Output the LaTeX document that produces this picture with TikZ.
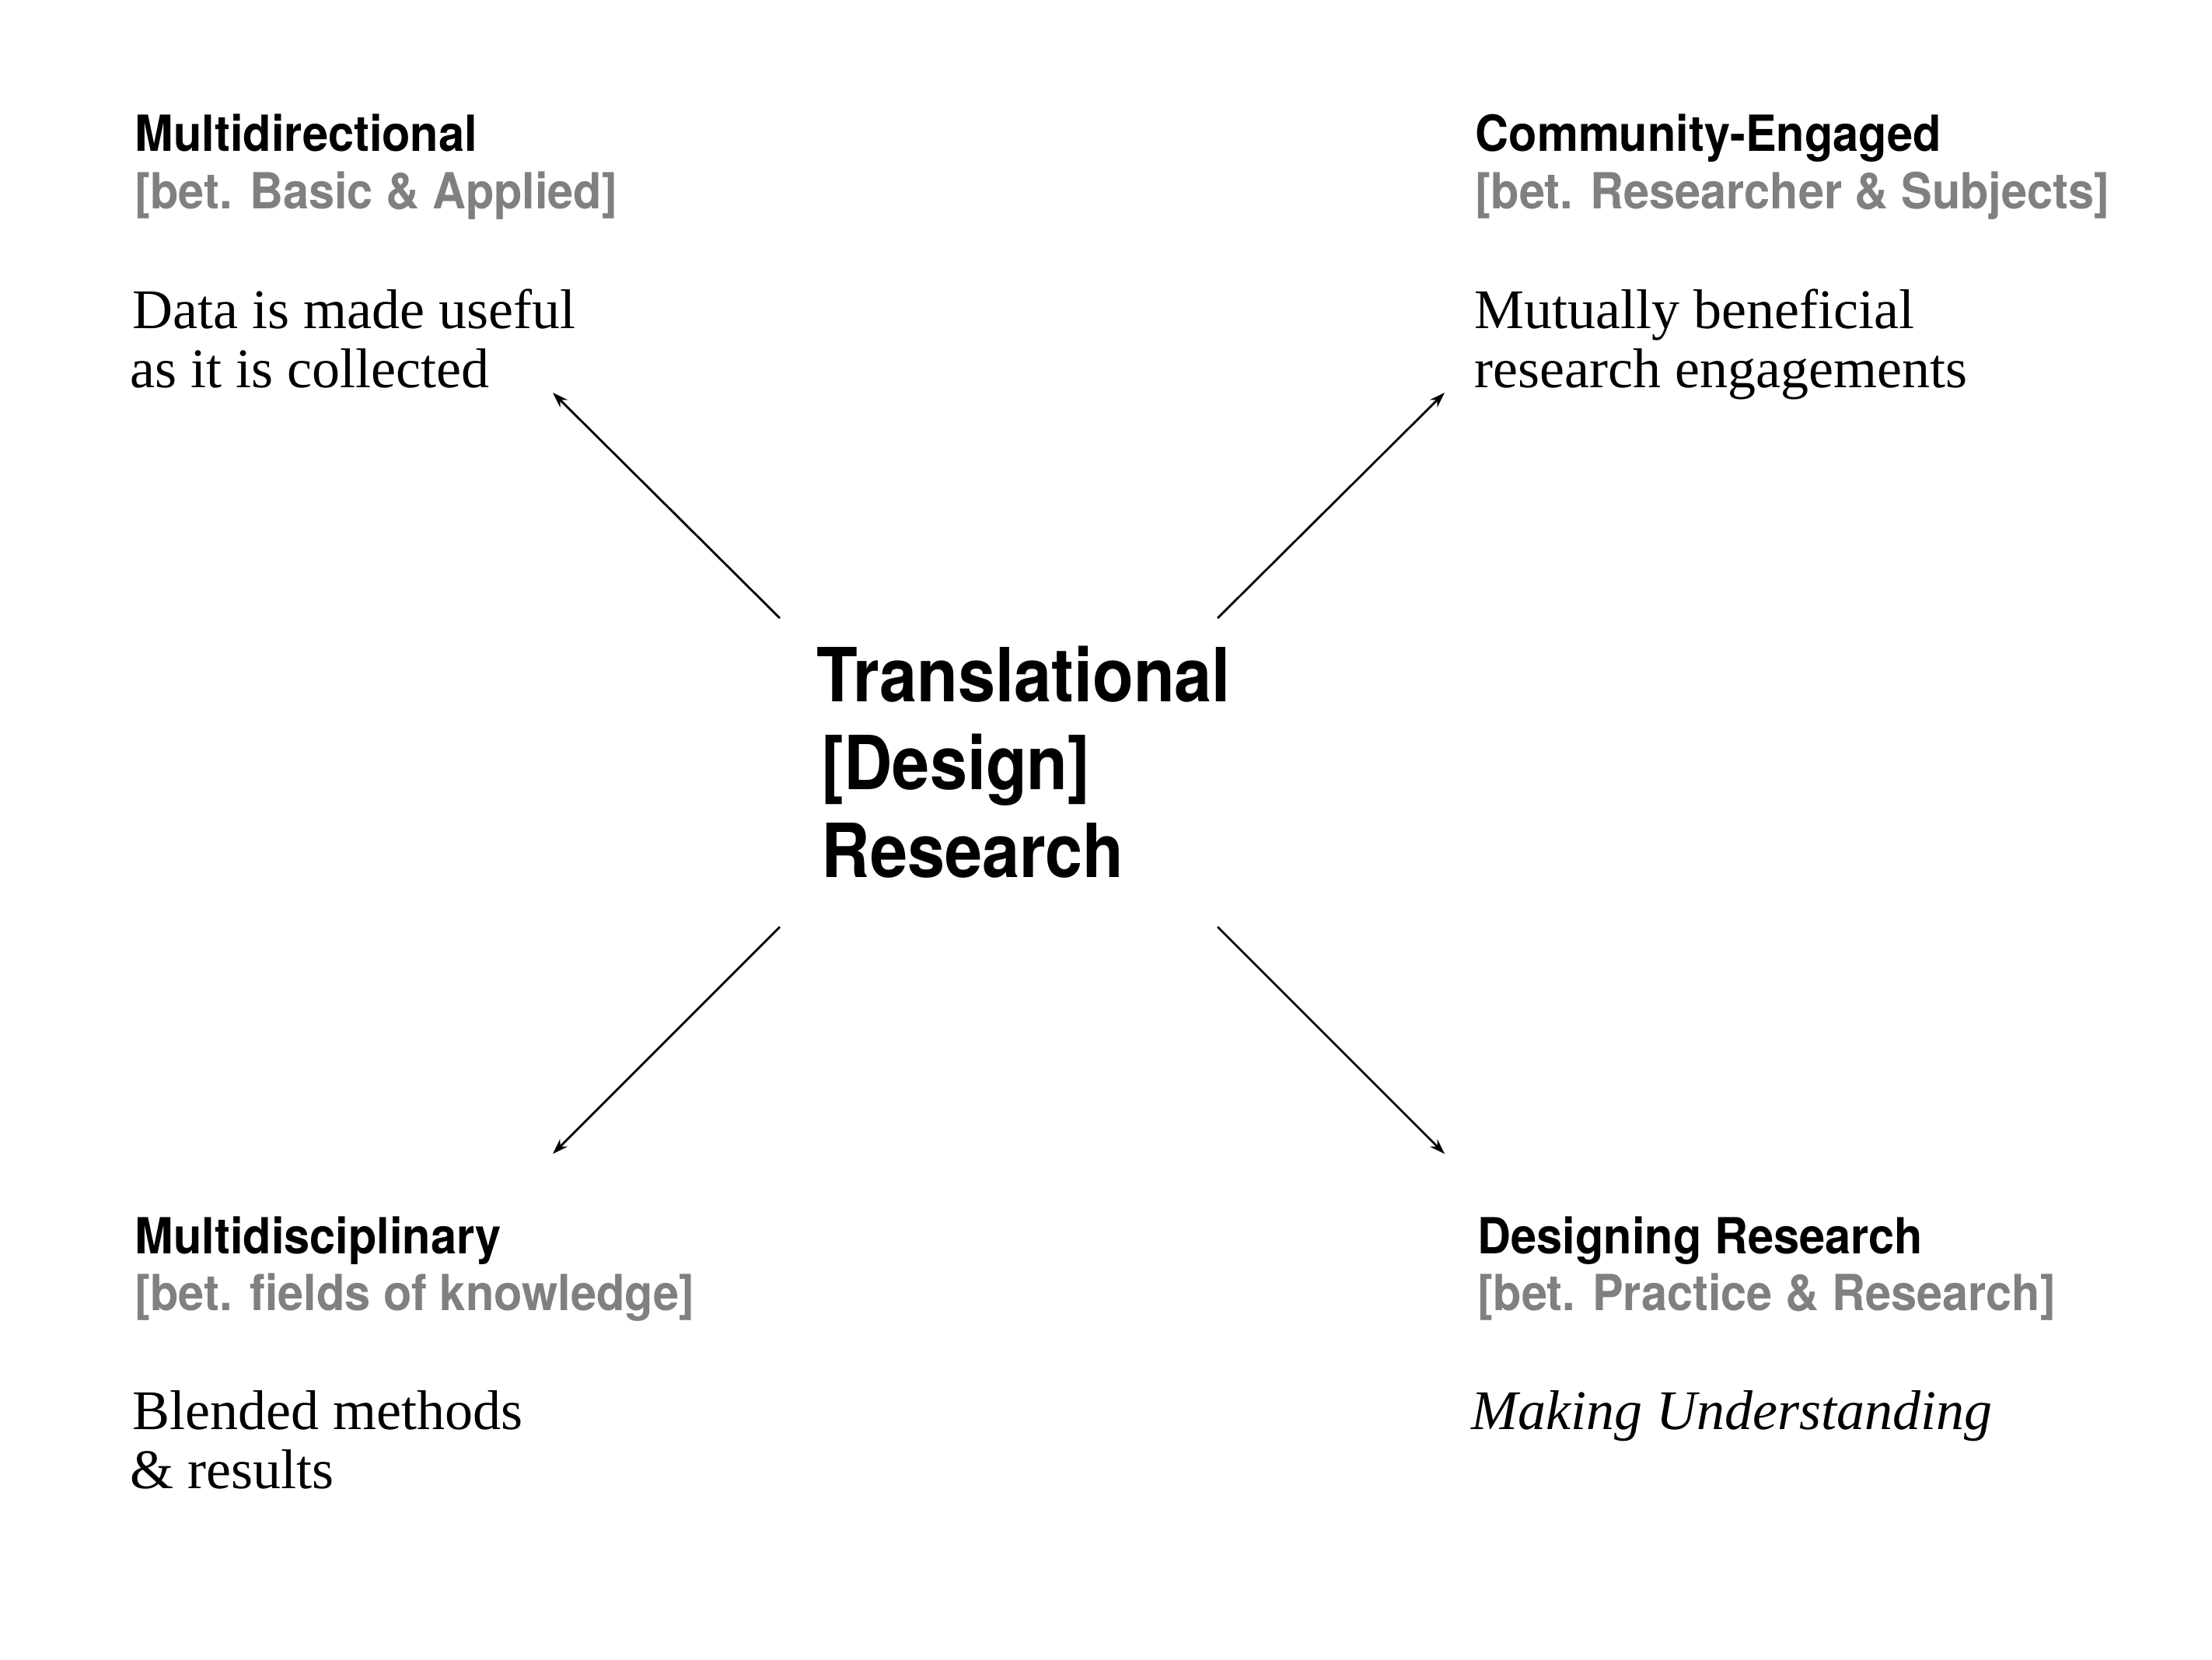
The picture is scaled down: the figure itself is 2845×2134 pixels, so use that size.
\documentclass[tikz,border=0pt]{standalone}
\usepackage{fontspec}
\setmainfont{Liberation Serif}
\newfontfamily\headfont[FakeStretch=0.93]{TeX Gyre Heros}
\newfontfamily\titlefont[FakeStretch=0.9]{TeX Gyre Heros}
\usetikzlibrary{arrows.meta}
\definecolor{subgray}{RGB}{128,128,128}
\tikzset{
  txt/.style={inner sep=0pt, anchor=base west},
  head/.style={txt, font=\headfont\bfseries\fontsize{16}{18}\selectfont, text=black},
  sub/.style={txt, font=\headfont\bfseries\fontsize{16}{18}\selectfont, text=subgray},
  body/.style={txt, font=\fontsize{18}{19}\selectfont, text=black},
  bodyit/.style={txt, font=\itshape\fontsize{18}{19}\selectfont, text=black},
  title/.style={txt, font=\titlefont\bfseries\fontsize{24}{28}\selectfont, text=black},
  conn/.style={line width=0.7pt, -{Stealth[length=5pt,width=3.4pt]}}
}
\begin{document}
\begin{tikzpicture}[x=0.25pt,y=-0.25pt]
\useasboundingbox (0,0) rectangle (2845,2134);
% centre title
\node[title] (t1) at (1050,902) {Translational};
\node[title] (t2) at (1056,1015) {[Design]};
\node[title] (t3) at (1056,1128) {Research};
% top left
\node[head] (tlh) at (173,194) {Multidirectional};
\node[sub]  (tls) at (173,268) {[bet. Basic \& Applied]};
\node[body] (tlb1) at (170,422) {Data is made useful};
\node[body] (tlb2) at (167,498) {as it is collected};
% top right
\node[head] (trh) at (1897,194) {Community-Engaged};
\node[sub]  (trs) at (1897,268) {[bet. Researcher \& Subjects]};
\node[body] (trb1) at (1896,422) {Mutually beneficial};
\node[body] (trb2) at (1896,498) {research engagements};
% bottom left
\node[head] (blh) at (173,1612) {Multidisciplinary};
\node[sub]  (bls) at (173,1685) {[bet. fields of knowledge]};
\node[body] (blb1) at (170,1838) {Blended methods};
\node[body] (blb2) at (167,1914) {\& results};
% bottom right
\node[head] (brh) at (1900,1612) {Designing Research};
\node[sub]  (brs) at (1900,1685) {[bet. Practice \& Research]};
\node[bodyit] (brb) at (1892,1838) {Making Understanding};
% connector ends
\coordinate (nwS) at (1003,795);
\coordinate (nwE) at (711,505);
\coordinate (neS) at (1566,795);
\coordinate (neE) at (1858,505);
\coordinate (swS) at (1003,1192);
\coordinate (swE) at (711,1484);
\coordinate (seS) at (1566,1192);
\coordinate (seE) at (1858,1484);
\draw[conn] (nwS) -- (nwE);
\draw[conn] (neS) -- (neE);
\draw[conn] (swS) -- (swE);
\draw[conn] (seS) -- (seE);
\end{tikzpicture}
\end{document}
